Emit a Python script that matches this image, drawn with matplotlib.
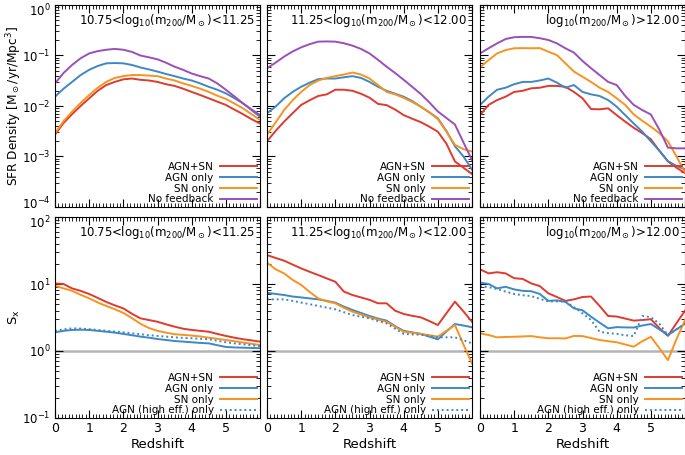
import numpy as np
import matplotlib
matplotlib.use('Agg')
import matplotlib.pyplot as plt
from matplotlib.ticker import MultipleLocator, LogLocator, NullFormatter
from matplotlib.transforms import ScaledTranslation

# redshift grid
z = [0, 0.25, 0.5, 0.75, 1, 1.25, 1.5, 1.75, 2, 2.25, 2.5, 2.75, 3, 3.25, 3.5, 3.75,
     4, 4.25, 4.5, 4.75, 5, 5.25, 5.5, 5.75, 6]

titles = [r'10.75<log$_{10}$(m$_{200}$/M$_\odot$)<11.25',
          r'11.25<log$_{10}$(m$_{200}$/M$_\odot$)<12.00',
          r'log$_{10}$(m$_{200}$/M$_\odot$)>12.00']

# SFR density, panel 1..3
sfr_agnsn = [
    [0.0027, 0.0046, 0.0069, 0.010, 0.0142, 0.020, 0.026, 0.030, 0.0337, 0.035, 0.033, 0.032, 0.030,
     0.027, 0.025, 0.022, 0.019, 0.0165, 0.0142, 0.0122, 0.0105, 0.0085, 0.0069, 0.0055, 0.0045],
    [0.002, 0.0032, 0.0049, 0.0072, 0.0105, 0.013, 0.0158, 0.017, 0.021, 0.021, 0.020, 0.0175, 0.0146,
     0.011, 0.0104, 0.0085, 0.0066, 0.0056, 0.0048, 0.0039, 0.0031, 0.0018, 0.0008, 0.0006, 0.00045],
    [0.0066, 0.0105, 0.0131, 0.0153, 0.019, 0.020, 0.0224, 0.023, 0.025, 0.025, 0.024, 0.019, 0.0142,
     0.0087, 0.0086, 0.009, 0.0066, 0.0049, 0.0037, 0.0029, 0.0022, 0.0013, 0.0008, 0.0006, 0.00047],
]
sfr_agn = [
    [0.0153, 0.022, 0.030, 0.041, 0.052, 0.062, 0.070, 0.071, 0.070, 0.065, 0.058, 0.053, 0.048,
     0.043, 0.039, 0.035, 0.032, 0.028, 0.024, 0.021, 0.0178, 0.0143, 0.0113, 0.0083, 0.0061],
    [0.0072, 0.0097, 0.0142, 0.019, 0.024, 0.029, 0.034, 0.035, 0.035, 0.037, 0.039, 0.036, 0.030,
     0.024, 0.020, 0.0175, 0.0153, 0.0125, 0.0097, 0.0075, 0.0057, 0.0032, 0.0016, 0.001, 0.00055],
    [0.0105, 0.0153, 0.021, 0.023, 0.027, 0.030, 0.030, 0.032, 0.035, 0.029, 0.023, 0.026, 0.019,
     0.017, 0.0158, 0.0131, 0.0097, 0.0066, 0.0045, 0.0031, 0.002, 0.0013, 0.00081, 0.00065, 0.00056],
]
sfr_sn = [
    [0.0029, 0.005, 0.0077, 0.0115, 0.0165, 0.023, 0.030, 0.036, 0.039, 0.041, 0.041, 0.040, 0.039,
     0.035, 0.032, 0.028, 0.025, 0.022, 0.019, 0.016, 0.0138, 0.0112, 0.009, 0.0069, 0.0053],
    [0.0027, 0.0047, 0.0083, 0.013, 0.019, 0.026, 0.032, 0.036, 0.039, 0.042, 0.046, 0.042, 0.035,
     0.026, 0.019, 0.017, 0.0145, 0.012, 0.0097, 0.0075, 0.0055, 0.0031, 0.0017, 0.0014, 0.00125],
    [0.058, 0.081, 0.11, 0.128, 0.139, 0.140, 0.139, 0.14, 0.119, 0.102, 0.070, 0.048, 0.038,
     0.030, 0.023, 0.019, 0.0142, 0.0105, 0.0068, 0.0051, 0.0039, 0.0029, 0.002, 0.001, 0.00049],
]
sfr_nofb = [
    [0.028, 0.045, 0.065, 0.088, 0.11, 0.122, 0.13, 0.135, 0.13, 0.118, 0.10, 0.092, 0.084,
     0.072, 0.06, 0.052, 0.044, 0.039, 0.035, 0.028, 0.021, 0.0155, 0.0113, 0.0086, 0.0066],
    [0.056, 0.072, 0.095, 0.12, 0.145, 0.168, 0.188, 0.19, 0.188, 0.175, 0.157, 0.135, 0.11,
     0.082, 0.06, 0.045, 0.033, 0.024, 0.0173, 0.0118, 0.0078, 0.0058, 0.0043, 0.0019, 0.00085],
    [0.11, 0.139, 0.174, 0.212, 0.23, 0.234, 0.233, 0.22, 0.203, 0.174, 0.139, 0.114, 0.078,
     0.056, 0.041, 0.030, 0.026, 0.0158, 0.0105, 0.0083, 0.0068, 0.0034, 0.0015, 0.00145, 0.00145],
]

# suppression factor S_x, panel 1..3
s_agnsn = [
    [10.2, 10.0, 8.6, 7.9, 7.1, 6.2, 5.4, 4.8, 4.33, 3.6, 3.07, 2.9, 2.73, 2.5, 2.31, 2.15,
     2.06, 2.0, 1.94, 1.8, 1.68, 1.58, 1.5, 1.44, 1.38],
    [27, 24.5, 22.3, 19.5, 17.1, 15.2, 13.6, 12.1, 10.8, 7.7, 6.85, 6.3, 5.8, 5.15, 5.15, 4.0,
     3.57, 3.35, 3.18, 2.8, 2.44, 3.65, 5.45, 3.9, 2.73],
    [16.6, 14.4, 15, 14.4, 12.2, 11.9, 10.2, 9.3, 7.26, 6.4, 5.6, 5.9, 6.4, 6.5, 4.7, 3.33,
     3.27, 3.05, 2.84, 2.9, 2.98, 2.2, 1.68, 2.6, 4.0],
]
s_agn = [
    [1.9, 2.0, 2.06, 2.08, 2.06, 2.0, 1.94, 1.88, 1.8, 1.72, 1.64, 1.58, 1.51, 1.46, 1.41, 1.38,
     1.35, 1.32, 1.3, 1.22, 1.15, 1.13, 1.12, 1.11, 1.1],
    [7.4, 7.1, 6.85, 6.5, 6.3, 6.1, 5.9, 5.6, 5.27, 4.6, 4.1, 3.7, 3.33, 3.05, 2.84, 2.35,
     2.0, 1.9, 1.8, 1.64, 1.49, 1.95, 2.53, 2.4, 2.26],
    [10.5, 10.0, 8.6, 9.1, 8.3, 7.9, 7.8, 7.1, 5.6, 5.7, 5.4, 4.33, 4.05, 3.25, 2.65, 2.18,
     2.27, 2.25, 2.24, 2.4, 2.53, 2.1, 1.73, 2.1, 2.55],
]
s_sn = [
    [9.4, 8.6, 7.9, 6.9, 6.1, 5.3, 4.7, 4.2, 3.7, 3.1, 2.55, 2.2, 2.0, 1.88, 1.78, 1.74,
     1.7, 1.65, 1.58, 1.52, 1.46, 1.4, 1.34, 1.28, 1.23],
    [20.8, 16.6, 14.4, 11.5, 9.7, 7.6, 6.1, 5.5, 5.15, 4.4, 3.86, 3.5, 3.18, 2.95, 2.73, 2.3,
     1.94, 1.87, 1.8, 1.72, 1.64, 2.0, 2.44, 1.25, 0.65],
    [1.84, 1.73, 1.6, 1.62, 1.63, 1.65, 1.67, 1.6, 1.55, 1.55, 1.54, 1.68, 1.67, 1.56, 1.46, 1.4,
     1.35, 1.25, 1.16, 1.4, 1.63, 1.1, 0.73, 1.5, 2.9],
]
s_agnhi = [
    [2.0, 2.1, 2.18, 2.16, 2.12, 2.06, 2.0, 1.95, 1.9, 1.84, 1.78, 1.72, 1.68, 1.64, 1.6, 1.57,
     1.55, 1.52, 1.5, 1.42, 1.35, 1.3, 1.26, 1.22, 1.18],
    [5.9, 5.9, 5.9, 5.6, 5.27, 5.0, 4.7, 4.45, 4.19, 3.8, 3.44, 3.25, 3.07, 2.8, 2.59, 2.15,
     1.8, 1.77, 1.75, 1.67, 1.6, 1.6, 1.6, 1.45, 1.3],
    [9.3, 9.0, 8.4, 7.7, 7.1, 6.8, 6.6, 6.0, 5.5, 5.5, 5.5, 4.5, 3.66, 2.9, 1.94, 1.85,
     1.8, 1.72, 1.67, 3.33, 3.2, 2.55, 1.73, 2.1, 2.55],
]

c_red = '#e03a2f'
c_blue = '#3f88c5'
c_orange = '#f7931e'
c_purple = '#9a4fb8'

fig = plt.figure(figsize=(6.85, 4.55), dpi=100)
W, H = 685., 455.
lefts = [55, 267, 480]
pw = 205

def style_axis(ax, ylim, xlabels, ylabels):
    ax.set_xlim(0, 6)
    ax.set_yscale('log')
    ax.set_ylim(*ylim)
    ax.xaxis.set_major_locator(MultipleLocator(1))
    ax.xaxis.set_minor_locator(MultipleLocator(0.1))
    ax.yaxis.set_major_locator(LogLocator(base=10, numticks=10))
    ax.yaxis.set_minor_locator(LogLocator(base=10, subs=np.arange(2, 10), numticks=10))
    ax.yaxis.set_minor_formatter(NullFormatter())
    ax.tick_params(which='both', direction='in', top=True, right=True, labelsize=8.5, pad=3)
    ax.tick_params(which='major', length=6, width=0.8)
    ax.tick_params(which='minor', length=3, width=0.6)
    if xlabels:
        ax.set_xticks([0, 1, 2, 3, 4, 5])
        ax.tick_params(axis='x', labelsize=9)
        ax.set_xlabel('Redshift', fontsize=9.5, labelpad=2)
    else:
        ax.tick_params(labelbottom=False)
    if not ylabels:
        ax.tick_params(labelleft=False)
    for sp in ax.spines.values():
        sp.set_linewidth(0.8)

lw = 1.4
leg_kw = dict(loc='lower right', frameon=False, markerfirst=False, fontsize=7.5,
              handlelength=3.6, handletextpad=0.6, labelspacing=0.08, borderaxespad=0.15,
              borderpad=0.1)
left_axes = []
for i in range(3):
    # top row: SFR density
    ax = fig.add_axes([lefts[i] / W, 1 - 207 / H, pw / W, 202 / H])
    ax.plot(z, sfr_agnsn[i], color=c_red, lw=lw, label='AGN+SN')
    ax.plot(z, sfr_agn[i], color=c_blue, lw=lw, label='AGN only')
    ax.plot(z, sfr_sn[i], color=c_orange, lw=lw, label='SN only')
    ax.plot(z, sfr_nofb[i], color=c_purple, lw=lw, label='No feedback')
    style_axis(ax, (1e-4, 1), False, i == 0)
    if i == 0:
        ax.set_ylabel(r'SFR Density [M$_\odot$/yr/Mpc$^3$]', fontsize=8.7, va='center')
        ax.yaxis.set_label_coords(-0.2, 0.5)
        left_axes.append(ax)
    ax.text(0.975, 0.925, titles[i], transform=ax.transAxes, ha='right', va='center', fontsize=8.5)
    ax.legend(**leg_kw)

    # bottom row: S_x
    ax = fig.add_axes([lefts[i] / W, 1 - 418 / H, pw / W, 201 / H])
    ax.axhline(1, color='#b5b5b5', lw=1.8, zorder=1)
    ax.plot(z, s_agnsn[i], color=c_red, lw=lw, label='AGN+SN')
    ax.plot(z, s_agn[i], color=c_blue, lw=lw, label='AGN only')
    ax.plot(z, s_sn[i], color=c_orange, lw=lw, label='SN only')
    ax.plot(z, s_agnhi[i], color=c_blue, lw=lw, ls=(0, (1, 1.5)), label='AGN (high eff.) only')
    style_axis(ax, (0.1, 100), True, i == 0)
    if i == 0:
        ax.set_ylabel(r'S$_{\rm x}$', fontsize=9.5, va='center')
        ax.yaxis.set_label_coords(-0.2, 0.5)
        left_axes.append(ax)
    ax.text(0.975, 0.925, titles[i], transform=ax.transAxes, ha='right', va='center', fontsize=8.5)
    ax.legend(**leg_kw)

# nudge the end labels of the left axes a few pixels so they stay inside and apart
fig.canvas.draw()
for ax in left_axes:
    lo, hi = ax.get_ylim()
    for t in ax.yaxis.get_major_ticks():
        loc = t.get_loc()
        if np.isclose(loc, hi):
            dy = -3.5
        elif np.isclose(loc, lo) and hi < 10:
            dy = 3.5
        else:
            continue
        t.label1.set_transform(t.label1.get_transform()
                               + ScaledTranslation(0, dy / 72., fig.dpi_scale_trans))

fig.savefig('out.png', dpi=100)
